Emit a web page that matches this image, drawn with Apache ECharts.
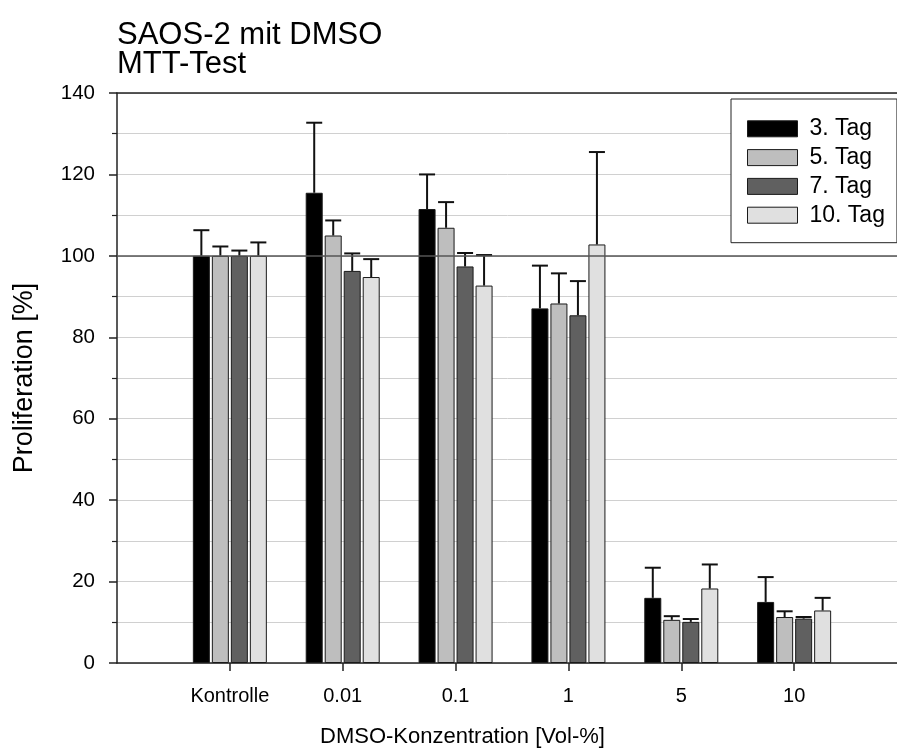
<!DOCTYPE html>
<html>
<head>
<meta charset="utf-8">
<script src="https://cdn.jsdelivr.net/npm/echarts@6/dist/echarts.min.js"></script>
<style>html,body{margin:0;padding:0;background:#fff;}#c{width:897px;height:756px;}</style>
</head>
<body>
<div id="c"></div>
<script>
// ---- data ----
const categories = ["Kontrolle", "0.01", "0.1", "1", "5", "10"];
const seriesNames = ["3. Tag", "5. Tag", "7. Tag", "10. Tag"];
const tag3 = [100, 115.5, 111.5, 87.1, 16.0, 15.0];
const tag5 = [100, 105.0, 106.9, 88.3, 10.6, 11.3];
const tag7 = [100, 96.3, 97.4, 85.4, 10.1, 10.9];
const tag10 = [100, 94.8, 92.7, 102.8, 18.3, 12.9];
const err3 = [6.3, 17.2, 8.5, 10.5, 7.4, 6.1];
const err5 = [2.3, 3.7, 6.3, 7.4, 0.9, 1.4];
const err7 = [1.3, 4.3, 3.3, 8.4, 0.7, 0.4];
const err10 = [3.3, 4.4, 7.5, 22.7, 5.9, 3.1];
const yTicks = [0, 20, 40, 60, 80, 100, 120, 140];
const refLine = 100;

// ---- styling ----
const FONT = '"Liberation Sans", Arial, sans-serif';
const colors = ["#000000", "#bebebe", "#606060", "#e0e0e0"];
const values = [tag3, tag5, tag7, tag10];
const errors = [err3, err5, err7, err10];
const BAR_W = 17, BAR_STEP = 19;

const axisData = [""].concat(categories, [""]);
const pad = arr => [null].concat(arr, [null]);

const chart = echarts.init(document.getElementById('c'), null, {renderer: 'canvas'});

const series = [];
values.forEach((vals, i) => {
  series.push({
    name: seriesNames[i],
    type: 'bar',
    data: pad(vals),
    barWidth: BAR_W,
    barGap: ((BAR_STEP - BAR_W) / BAR_W * 100) + '%',
    z: 3,
    itemStyle: {color: colors[i], borderColor: '#1a1a1a', borderWidth: 1},
    emphasis: {disabled: true}
  });
});
values.forEach((vals, i) => {
  const off = (i - 1.5) * BAR_STEP;
  series.push({
    type: 'custom',
    name: seriesNames[i] + ' err',
    z: 4,
    data: vals.map((v, k) => [k + 1, v + errors[i][k], v]),
    encode: {x: 0, y: 1},
    renderItem: function (params, api) {
      const top = api.coord([api.value(0), api.value(1)]);
      const bot = api.coord([api.value(0), api.value(2)]);
      const cx = top[0] + off;
      const st = {stroke: '#111', lineWidth: 2};
      return {type: 'group', children: [
        {type: 'line', shape: {x1: cx, y1: top[1], x2: cx, y2: bot[1]}, style: st},
        {type: 'line', shape: {x1: cx - 8, y1: top[1], x2: cx + 8, y2: top[1]}, style: st}
      ]};
    }
  });
});
series.push({
  type: 'line', data: [], z: 1, silent: true,
  markLine: {
    symbol: 'none', silent: true, label: {show: false},
    lineStyle: {color: '#555', width: 1.5, type: 'solid'},
    data: [{yAxis: refLine}]
  }
});

const option = {
  animation: false,
  backgroundColor: '#fff',
  textStyle: {fontFamily: FONT, color: '#000'},
  grid: {left: 117, width: 790, top: 93, bottom: 93, containLabel: false, outerBoundsMode: 'none'},
  legend: {
    data: seriesNames,
    orient: 'vertical',
    left: 731, top: 99,
    padding: [18.3, 12, 16, 16],
    backgroundColor: '#fff',
    borderColor: '#222', borderWidth: 1, borderRadius: 0,
    itemWidth: 50, itemHeight: 16, itemGap: 5.8,
    icon: 'rect',
    itemStyle: {borderColor: '#1a1a1a', borderWidth: 1},
    textStyle: {fontFamily: FONT, fontSize: 23, color: '#000', padding: [0, 0, 0, 7]}
  },
  xAxis: [{
    type: 'category',
    data: axisData,
    boundaryGap: false,
    axisLine: {lineStyle: {color: '#222', width: 1.5}},
    axisTick: {show: true, length: 8, inside: false, lineStyle: {color: '#222', width: 1.5},
      interval: function (idx) { return idx >= 1 && idx <= categories.length; }},
    axisLabel: {fontFamily: FONT, fontSize: 20, color: '#000', margin: 23,
      interval: 0},
    splitLine: {show: false}
  }, {
    type: 'category',
    data: axisData,
    boundaryGap: false,
    position: 'top',
    axisLine: {lineStyle: {color: '#222', width: 1.5}},
    axisTick: {show: false},
    axisLabel: {show: false},
    splitLine: {show: false}
  }],
  yAxis: {
    type: 'value',
    min: yTicks[0], max: yTicks[yTicks.length - 1], interval: yTicks[1] - yTicks[0],
    name: 'Proliferation [%]',
    nameLocation: 'middle',
    nameGap: 79,
    nameRotate: 90,
    nameTextStyle: {fontFamily: FONT, fontSize: 27, color: '#000'},
    axisLine: {show: true, lineStyle: {color: '#222', width: 1.5}},
    axisTick: {show: true, length: 8, lineStyle: {color: '#222', width: 1.5}},
    minorTick: {show: true, splitNumber: 2, length: 5, lineStyle: {color: '#222', width: 1.2}},
    axisLabel: {fontFamily: FONT, fontSize: 20.5, color: '#000', margin: 22},
    splitLine: {show: true, lineStyle: {color: '#d0d0d0', width: 1}},
    minorSplitLine: {show: true, lineStyle: {color: '#d0d0d0', width: 1}}
  },
  graphic: [
    {type: 'text', left: 117, top: 20, style: {text: 'SAOS-2 mit DMSO', fontSize: 31, fontFamily: FONT, fill: '#000'}},
    {type: 'text', left: 117, top: 48.5, style: {text: 'MTT-Test', fontSize: 31, fontFamily: FONT, fill: '#000'}},
    {type: 'text', left: 320, top: 726, style: {text: 'DMSO-Konzentration [Vol-%]', fontSize: 22, fontFamily: FONT, fill: '#000'}}
  ],
  series: series
};
chart.setOption(option);
</script>
</body>
</html>
